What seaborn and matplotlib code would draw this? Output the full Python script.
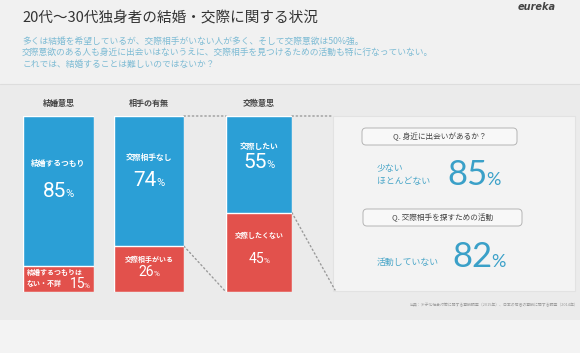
import numpy as np
import pandas as pd
import seaborn as sns
import matplotlib.pyplot as plt
from matplotlib.patches import Rectangle, FancyBboxPatch, ConnectionPatch
from matplotlib.transforms import offset_copy

# data
groups = ['結婚意思', '相手の有無', '交際意思']
top_labels = ['結婚するつもり', '交際相手なし', '交際したい']
top_values = [85, 74, 55]
bottom_labels = ['結婚するつもりは', '交際相手がいる', '交際したくない']
bottom_values = [15, 26, 45]

panel_questions = ['Q. 身近に出会いがあるか？', 'Q. 交際相手を探すための活動']
panel_answers = ['少ない\nほとんどない', '活動していない']
panel_values = [85, 82]

title = '20代〜30代独身者の結婚・交際に関する状況'
lead = ['多くは結婚を希望しているが、交際相手がいない人が多く、そして交際意欲は50%強。',
        '交際意欲のある人も身近に出会いはないうえに、交際相手を見つけるための活動も特に行なっていない。',
        'これでは、結婚することは難しいのではないか？']
source = '出典：少子化社会対策に関する意識調査（2015年）、日本の若者の意識に関する調査（2014年）'

BLUE = '#2b9fd6'
RED = '#e2514c'
W, H = 580, 353

sns.set_style('white')
plt.rcParams['font.family'] = ['Noto Sans CJK JP', 'DejaVu Sans']

fig = plt.figure(figsize=(W / 100, H / 100), dpi=100, facecolor='#ebebeb')
renderer = fig.canvas.get_renderer()

# background axes in pixel coordinates for the slide decoration
bg = fig.add_axes([0, 0, 1, 1], zorder=0)
bg.set_xlim(0, W)
bg.set_ylim(H, 0)
bg.axis('off')
bg.add_patch(Rectangle((0, 0), W, 84, color='#f1f1f1', lw=0))
bg.axhline(84, color='#dddddd', lw=0.8)
bg.add_patch(Rectangle((0, 320), W, H - 320, color='#f3f3f3', lw=0))
bg.add_patch(Rectangle((333, 116), 242, 175, facecolor='#f3f3f3', edgecolor='#e2e2e2', lw=0.8))

bg.text(22, 18, title, fontsize=10.5, color='#333333', va='center')
for i, line in enumerate(lead):
    bg.text(22, 41 + i * 11.5, line, fontsize=6.3, color='#7dbbd4', va='center')
bg.text(556, 7, 'eureka', fontsize=7, color='#444444', weight='bold',
        family='DejaVu Sans', ha='right', va='center', style='italic')
bg.text(578, 305, source, fontsize=2.8, color='#9a9a9a', ha='right', va='center')


def pct_text(ax, x, y, value, big, small, color, weight='normal', family=None):
    # number and a smaller percent sign, centred together on x
    kw = dict(color=color, va='baseline', ha='left', weight=weight)
    if family:
        kw['family'] = family
    t1 = ax.text(x, y, str(value), fontsize=big, **kw)
    t2 = ax.text(x, y, '%', fontsize=small, **kw)
    w1 = t1.get_window_extent(renderer).width
    w2 = t2.get_window_extent(renderer).width
    gap = -1
    total = w1 + w2 + gap
    t1.set_transform(offset_copy(ax.transData, fig, x=-total / 2, units='dots'))
    t2.set_transform(offset_copy(ax.transData, fig, x=-total / 2 + w1 + gap, units='dots'))


# one axes per stacked bar
bar_left = [23, 114, 226]
bar_width = [71, 70, 66]
axes = []
for i, g in enumerate(groups):
    ax = fig.add_axes([bar_left[i] / W, 1 - 292 / H, bar_width[i] / W, 176 / H], zorder=2)
    df = pd.DataFrame({'group': [g], 'total': [top_values[i] + bottom_values[i]],
                       'bottom': [bottom_values[i]]})
    sns.barplot(data=df, x='group', y='total', color=BLUE, saturation=1, width=1, ax=ax)
    sns.barplot(data=df, x='group', y='bottom', color=RED, saturation=1, width=1, ax=ax)
    ax.set_xlim(-0.5, 0.5)
    ax.set_ylim(0, 100)
    ax.axis('off')
    ax.text(0, 107, g, fontsize=5.8, color='#444444', ha='center', va='center', weight='bold')

    b = bottom_values[i]
    seg = 100 - b
    ax.text(0, b + seg * 0.68, top_labels[i], fontsize=5.6, color='white',
            ha='center', va='center', weight='bold')
    pct_text(ax, 0, b + seg * 0.46, top_values[i], 15, 8, 'white', family='Roboto')
    if i == 0:
        ax.text(-0.45, 11, bottom_labels[i], fontsize=5, color='white', ha='left',
                va='center', weight='bold')
        ax.text(-0.45, 5, 'ない・不詳', fontsize=5, color='white', ha='left',
                va='center', weight='bold')
        pct_text(ax, 0.3, 2.5, bottom_values[i], 10, 6, 'white', family='Roboto')
    else:
        ax.text(0, b * 0.72, bottom_labels[i], fontsize=5, color='white',
                ha='center', va='center', weight='bold')
        pct_text(ax, 0, b * 0.36, bottom_values[i], 10, 6, 'white', family='Roboto')
    axes.append(ax)

# dotted connectors between the bars and the panel
dot = dict(linestyle=(0, (1, 2)), color='#9a9a9a', lw=1.0, zorder=1)
links = [
    ((0.5, 100), axes[1].transData, (-0.5, 100), axes[2].transData),
    ((0.5, bottom_values[1]), axes[1].transData, (-0.5, 0), axes[2].transData),
    ((0.5, 100), axes[2].transData, (333, 116), bg.transData),
    ((0.5, bottom_values[2]), axes[2].transData, (335, 290), bg.transData),
]
for xa, ca, xb, cb in links:
    fig.add_artist(ConnectionPatch(xyA=xa, coordsA=ca, xyB=xb, coordsB=cb, **dot))

# right-hand panel
box_y = [128, 209]
box_x = [(362, 517), (363, 522)]
ans_y = [175, 262]
val_y = [185, 267]
val_x = [474, 479]
for i in range(2):
    x0, x1 = box_x[i]
    bg.add_patch(FancyBboxPatch((x0, box_y[i]), x1 - x0, 17,
                                boxstyle='round,pad=0,rounding_size=4',
                                facecolor='#f8f8f8', edgecolor='#b5b5b5', lw=0.7, zorder=3))
    bg.text((x0 + x1) / 2, box_y[i] + 8.5, panel_questions[i], fontsize=5.5,
            color='#444444', ha='center', va='center', zorder=4)
    bg.text(377, ans_y[i], panel_answers[i], fontsize=6.4, color='#4aa6c8',
            ha='left', va='center', linespacing=1.5, zorder=4)
    pct_text(bg, val_x[i], val_y[i], panel_values[i], 25, 13, '#3aa0c8',
             weight='normal', family='Lato')

fig.savefig('out.png', dpi=100, facecolor=fig.get_facecolor())
